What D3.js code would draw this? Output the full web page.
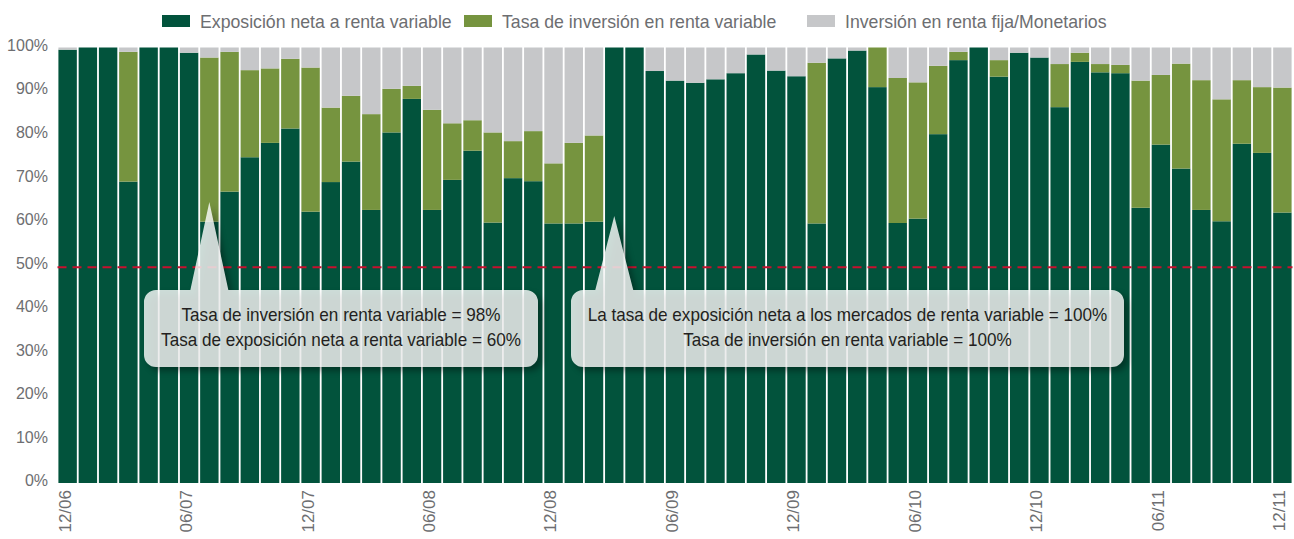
<!DOCTYPE html>
<html>
<meta charset="utf-8">
<title>Exposición a renta variable</title>
<style>
	body {
		margin: 0;
		background-color: #ffffff;
	}
	.axis text {
		font: 16px "Liberation Sans", Arial, sans-serif;
		fill: #6d6e71;
	}
	.axis.x text {
		font-size: 17px;
	}
	.legend text {
		font: 17.7px "Liberation Sans", Arial, sans-serif;
		fill: #6d6e71;
	}
	.callout text {
		font: 19px "Liberation Sans", Arial, sans-serif;
		fill: #231f20;
	}
</style>
<body>
	<div id="chart"></div>
</body>

<script src="https://d3js.org/d3.v7.min.js"></script>
<script>

	// Months (one bar each)
	var meses = ["12/06",
		"01/07", "02/07", "03/07", "04/07", "05/07", "06/07", "07/07", "08/07", "09/07", "10/07", "11/07", "12/07",
		"01/08", "02/08", "03/08", "04/08", "05/08", "06/08", "07/08", "08/08", "09/08", "10/08", "11/08", "12/08",
		"01/09", "02/09", "03/09", "04/09", "05/09", "06/09", "07/09", "08/09", "09/09", "10/09", "11/09", "12/09",
		"01/10", "02/10", "03/10", "04/10", "05/10", "06/10", "07/10", "08/10", "09/10", "10/10", "11/10", "12/10",
		"01/11", "02/11", "03/11", "04/11", "05/11", "06/11", "07/11", "08/11", "09/11", "10/11", "11/11", "12/11"];

	var etiquetasX = ["12/06", "06/07", "12/07", "06/08", "12/08", "06/09", "12/09", "06/10", "12/10", "06/11", "12/11"];

	// Net exposure to equities (%)
	var exposicion = [99.5, 100, 100, 69.2, 100, 100, 98.8, 60.0, 66.9, 74.8, 78.1, 81.4, 62.3,
		69.1, 73.8, 62.7, 80.5, 88.2, 62.7, 69.6, 76.3, 59.8, 70.0, 69.3, 59.6,
		59.6, 60.0, 100, 100, 94.6, 92.4, 91.9, 92.7, 94.1, 98.4, 94.7, 93.4,
		59.6, 97.5, 99.3, 90.9, 59.7, 60.7, 80.1, 97.1, 100, 93.3, 98.8, 97.7,
		86.3, 96.7, 94.3, 94.1, 63.2, 77.7, 72.2, 62.7, 60.1, 77.9, 75.8, 62.1];

	// Equity investment rate (%)
	var inversion = [99.5, 100, 100, 99.0, 100, 100, 98.8, 97.7, 99.0, 94.8, 95.2, 97.4, 95.4,
		86.2, 88.9, 84.7, 90.5, 91.2, 85.7, 82.6, 83.3, 80.5, 78.5, 80.8, 73.4,
		78.1, 79.8, 100, 100, 94.6, 92.4, 91.9, 92.7, 94.1, 98.4, 94.7, 93.4,
		96.5, 97.5, 99.3, 100, 93.0, 92.0, 95.8, 99.0, 100, 97.1, 98.8, 97.7,
		96.2, 98.8, 96.2, 96.0, 92.4, 93.7, 96.3, 92.5, 88.1, 92.5, 90.9, 90.8];

	var series = ["Exposición neta a renta variable", "Tasa de inversión en renta variable", "Inversión en renta fija/Monetarios"];
	var colores = ["#02533c", "#76943f", "#c6c7c9"];

	var umbral = 50;

	var notas = [
		{ mes: "07/07", punta: 64.5, lineas: ["Tasa de inversión en renta variable = 98%", "Tasa de exposición neta a renta variable = 60%"] },
		{ mes: "03/09", punta: 61.3, lineas: ["La tasa de exposición neta a los mercados de renta variable = 100%", "Tasa de inversión en renta variable = 100%"] }
	];

	// Chart dimensions
	var W = 1294, H = 539;
	var mLeft = 57.5, mRight = 1292.5, mTop = 47.5, mBottom = 483;

	var svg = d3.select("#chart").append("svg")
		.attr("width", W)
		.attr("height", H);

	var defs = svg.append("defs");
	defs.append("filter").attr("id", "blur")
		.attr("x", "-10%").attr("y", "-10%").attr("width", "120%").attr("height", "130%")
		.append("feGaussianBlur").attr("stdDeviation", 3);

	var x = d3.scaleBand().domain(meses).range([mLeft, mRight]).paddingInner(0.09).paddingOuter(0.045);
	var y = d3.scaleLinear().domain([0, 100]).range([mBottom, mTop]);

	// Stack the three parts of each bar
	var filas = meses.map(function (m, i) {
		return { mes: m, a: exposicion[i], b: inversion[i] - exposicion[i], c: 100 - inversion[i] };
	});
	var pila = d3.stack().keys(["a", "b", "c"])(filas);

	svg.append("g").selectAll("g")
		.data(pila).enter().append("g")
		.style("fill", function (d, i) { return colores[i]; })
		.selectAll("rect")
		.data(function (d) { return d; }).enter().append("rect")
		.attr("x", function (d) { return x(d.data.mes); })
		.attr("y", function (d) { return y(d[1]); })
		.attr("width", x.bandwidth())
		.attr("height", function (d) { return y(d[0]) - y(d[1]); });

	// 50% reference line
	svg.append("line")
		.attr("x1", mLeft).attr("x2", mRight)
		.attr("y1", y(umbral) + 2).attr("y2", y(umbral) + 2)
		.attr("stroke", "#c8102e")
		.attr("stroke-width", 2)
		.attr("stroke-dasharray", "9,6");

	// Axes
	var yAxis = svg.append("g").attr("class", "axis y")
		.attr("transform", "translate(48,0)")
		.call(d3.axisLeft(y).tickValues(d3.range(0, 101, 10)).tickSize(0).tickFormat(function (d) { return d + "%"; }));
	yAxis.select(".domain").remove();
	yAxis.selectAll("text").attr("x", 0).attr("dy", "0.18em");

	var xAxis = svg.append("g").attr("class", "axis x")
		.attr("transform", "translate(0," + mBottom + ")")
		.call(d3.axisBottom(x).tickValues(etiquetasX).tickSize(0));
	xAxis.select(".domain").remove();
	xAxis.selectAll("text")
		.attr("transform", "rotate(-90)")
		.attr("text-anchor", "end")
		.attr("x", -7)
		.attr("y", -3)
		.attr("dy", "0.35em");

	// Legend
	var legendX = [162, 464, 807];
	var legend = svg.append("g").attr("class", "legend");
	series.forEach(function (s, i) {
		legend.append("rect")
			.attr("x", legendX[i]).attr("y", 15)
			.attr("width", 28).attr("height", 12)
			.style("fill", colores[i]);
		legend.append("text")
			.attr("x", legendX[i] + 38).attr("y", 28)
			.text(s);
	});

	// Callouts
	var cajas = [[144, 538], [571, 1124]];
	var cajaTop = 290, cajaBottom = 367, radio = 12, base = 19;

	function forma(x0, x1, ax, ay) {
		var r = radio;
		return "M" + (x0 + r) + "," + cajaTop +
			"L" + (ax - base) + "," + cajaTop +
			"L" + ax + "," + ay +
			"L" + (ax + base) + "," + cajaTop +
			"L" + (x1 - r) + "," + cajaTop +
			"A" + r + "," + r + " 0 0 1 " + x1 + "," + (cajaTop + r) +
			"L" + x1 + "," + (cajaBottom - r) +
			"A" + r + "," + r + " 0 0 1 " + (x1 - r) + "," + cajaBottom +
			"L" + (x0 + r) + "," + cajaBottom +
			"A" + r + "," + r + " 0 0 1 " + x0 + "," + (cajaBottom - r) +
			"L" + x0 + "," + (cajaTop + r) +
			"A" + r + "," + r + " 0 0 1 " + (x0 + r) + "," + cajaTop + "Z";
	}

	notas.forEach(function (n, i) {
		var g = svg.append("g").attr("class", "callout");
		var ax = x(n.mes) + x.bandwidth() / 2,
			ay = y(n.punta),
			c = cajas[i];
		g.append("path")
			.attr("d", forma(c[0], c[1], ax, ay))
			.attr("transform", "translate(4,4)")
			.attr("fill", "#000")
			.attr("opacity", 0.35)
			.attr("filter", "url(#blur)");
		g.append("path")
			.attr("d", forma(c[0], c[1], ax, ay))
			.attr("fill", "#ffffff")
			.attr("fill-opacity", 0.8);
		g.selectAll("text").data(n.lineas).enter().append("text")
			.attr("x", (c[0] + c[1]) / 2)
			.attr("y", function (d, j) { return 321 + j * 25; })
			.attr("text-anchor", "middle")
			.text(function (d) { return d; })
			// squeeze the text a little to get the narrow look of the original
			.each(function () {
				var len = this.getComputedTextLength();
				d3.select(this).attr("textLength", len * 0.9).attr("lengthAdjust", "spacingAndGlyphs");
			});
	});

</script>
</html>
